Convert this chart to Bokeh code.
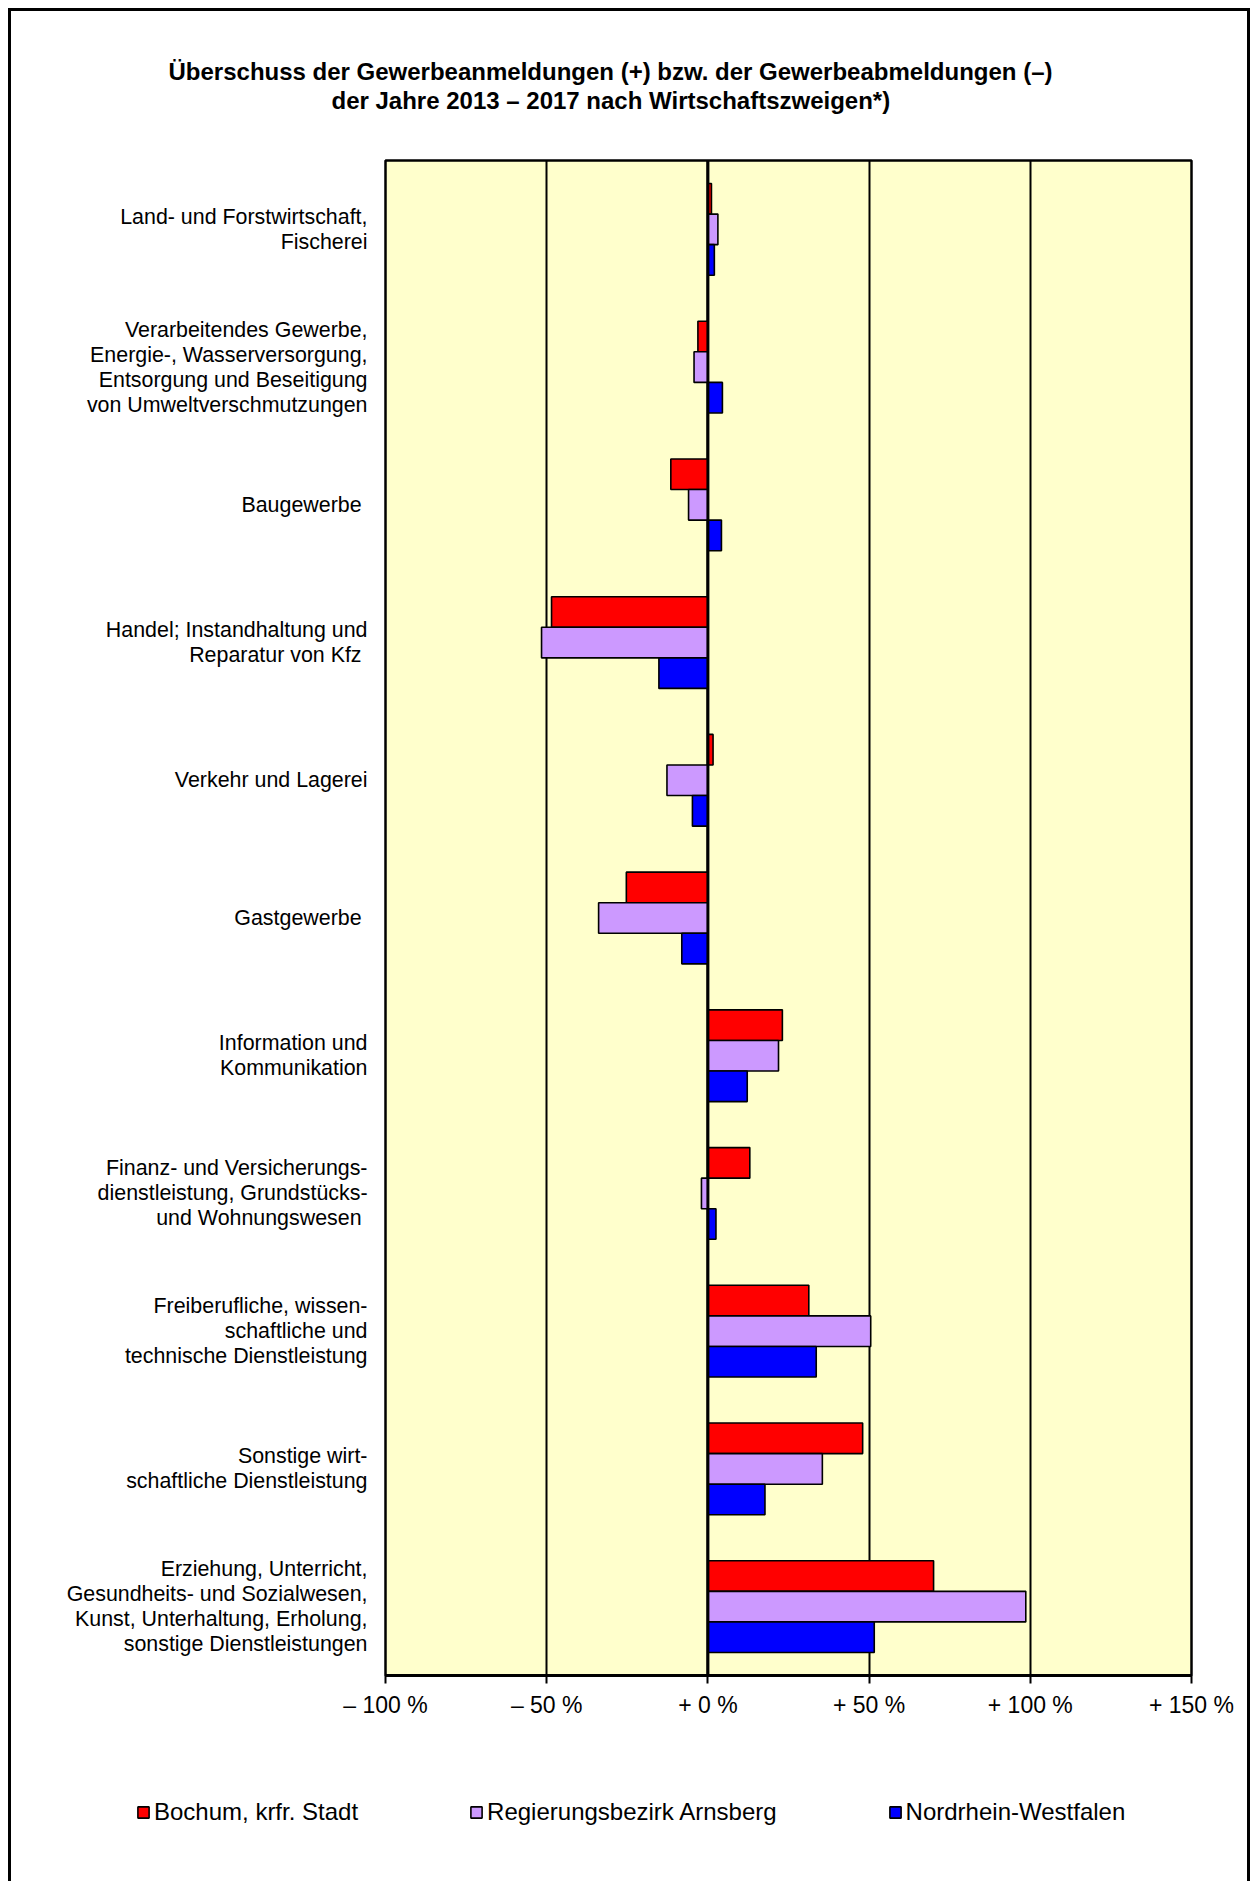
from bokeh.plotting import figure
from bokeh.layouts import column
from bokeh.models import (ColumnDataSource, FactorRange, FixedTicker, Span, Title,
                          Legend, LegendItem)
from bokeh.transform import dodge
from bokeh.embed import file_html
from bokeh.resources import INLINE

categories = [
    "Land- und Forstwirtschaft,\nFischerei",
    "Verarbeitendes Gewerbe,\nEnergie-, Wasserversorgung,\nEntsorgung und Beseitigung\nvon Umweltverschmutzungen",
    "Baugewerbe ",
    "Handel; Instandhaltung und\nReparatur von Kfz ",
    "Verkehr und Lagerei",
    "Gastgewerbe ",
    "Information und\nKommunikation",
    "Finanz- und Versicherungs-\ndienstleistung, Grundstücks-\nund Wohnungswesen ",
    "Freiberufliche, wissen-\nschaftliche und\ntechnische Dienstleistung",
    "Sonstige wirt-\nschaftliche Dienstleistung",
    "Erziehung, Unterricht,\nGesundheits- und Sozialwesen,\nKunst, Unterhaltung, Erholung,\nsonstige Dienstleistungen",
]
bochum = [1.1, -3.1, -11.5, -48.5, 1.6, -25.3, 23.1, 13.0, 31.3, 48.0, 70.0]
arnsberg = [3.1, -4.3, -6.0, -51.6, -12.7, -33.9, 21.9, -2.0, 50.5, 35.5, 98.6]
nrw = [2.0, 4.5, 4.2, -15.2, -4.8, -8.1, 12.2, 2.5, 33.6, 17.7, 51.6]
series_names = ["Bochum, krfr. Stadt", "Regierungsbezirk Arnsberg", "Nordrhein-Westfalen"]
series_colors = ["#FF0000", "#CC99FF", "#0000FF"]
tick_values = [-100, -50, 0, 50, 100, 150]
tick_labels = ["\u2013 100 %", "\u2013 50 %", "+ 0 %", "+ 50 %", "+ 100 %", "+ 150 %"]
title_lines = ["\u00dcberschuss der Gewerbeanmeldungen (+) bzw. der Gewerbeabmeldungen (\u2013)",
               "der Jahre 2013 \u2013 2017 nach Wirtschaftszweigen*)"]

FONT = "Liberation Sans"

src = ColumnDataSource(dict(cat=categories, bochum=bochum, arnsberg=arnsberg, nrw=nrw))

p = figure(
    y_range=FactorRange(factors=list(reversed(categories)), range_padding=0),
    x_range=(-100, 150),
    frame_width=806, frame_height=1515,
    min_border_left=374, min_border_right=56, min_border_top=149, min_border_bottom=67,
    output_backend="svg", toolbar_location=None,
)
p.frame_align = False
p.background_fill_color = "#FFFFCC"
p.border_fill_color = "white"
p.outline_line_color = "black"
p.outline_line_width = 2.5

bh = 0.222
offsets = [bh, 0.0, -bh]
for col, off, color in zip(["bochum", "arnsberg", "nrw"], offsets, series_colors):
    p.hbar(y=dodge("cat", off, range=p.y_range), right=col, left=0, height=bh,
           source=src, fill_color=color, line_color="black", line_width=1.6)

# grid
p.ygrid.visible = False
p.xgrid.ticker = FixedTicker(ticks=tick_values)
p.xgrid.grid_line_color = "black"
p.xgrid.grid_line_width = 2
p.xgrid.grid_line_alpha = 1
p.add_layout(Span(location=0, dimension="height", line_color="black", line_width=3))

# x axis
xa = p.xaxis[0]
xa.ticker = FixedTicker(ticks=tick_values)
xa.major_label_overrides = {v: t for v, t in zip(tick_values, tick_labels)}
xa.axis_line_width = 3
xa.axis_line_color = "black"
xa.major_tick_line_width = 2
xa.major_tick_out = 8
xa.major_tick_in = 0
xa.minor_tick_line_color = None
xa.major_label_text_font = FONT
xa.major_label_text_font_size = "23px"
xa.major_label_text_color = "black"
xa.major_label_standoff = 8

# y axis
ya = p.yaxis[0]
ya.axis_line_color = None
ya.major_tick_line_color = None
ya.major_tick_out = 0
ya.major_tick_in = 0
ya.minor_tick_line_color = None
ya.major_label_text_font = FONT
ya.major_label_text_font_size = "21.4px"
ya.major_label_text_color = "black"
ya.major_label_standoff = 18
ya.major_label_text_line_height = 1.04

# title: spacer nearest the frame, then line 2, plot title (line 1) outermost
p.add_layout(Title(text=" ", text_font_size="1px", standoff=44), "above")
p.add_layout(Title(text=title_lines[1], align="left", offset=-54, text_font=FONT,
                   text_font_style="bold", text_font_size="24px", text_color="black",
                   standoff=0), "above")
p.title.text = title_lines[0]
p.title.align = "left"
p.title.offset = -217
p.title.text_font = FONT
p.title.text_font_style = "bold"
p.title.text_font_size = "24px"
p.title.text_color = "black"
p.title.standoff = 0

# legend strip below the chart
lf = figure(width=1236, height=140, x_range=(0, 1), y_range=(0, 1),
            min_border_left=125, min_border_right=0, min_border_top=0, min_border_bottom=0,
            x_axis_type=None, y_axis_type=None, output_backend="svg", toolbar_location=None)
lf.frame_align = False
lf.grid.visible = False
lf.outline_line_color = None
lf.background_fill_color = "white"
lf.border_fill_color = "white"
legend_renderers = []
for color in series_colors:
    # placeholder glyph with no drawable data, used only for the legend swatch
    legend_renderers.append(lf.hbar(y=[float("nan")], right=[float("nan")], left=0,
                                    height=0.1, fill_color=color,
                                    line_color="black", line_width=1.6))
legend = Legend(
    items=[LegendItem(label=n, renderers=[r]) for n, r in zip(series_names, legend_renderers)],
    orientation="horizontal", location="center_left",
    glyph_width=14, glyph_height=14, label_standoff=4, spacing=111,
    padding=0, margin=0, border_line_color=None, background_fill_alpha=0,
    label_text_font=FONT, label_text_font_size="24px", label_text_color="black",
)
lf.add_layout(legend, "center")

layout = column(p, lf, spacing=0)
layout.styles = {"border": "3px solid black", "margin": "8px"}

open("out.html", "w").write(file_html(layout, INLINE))
